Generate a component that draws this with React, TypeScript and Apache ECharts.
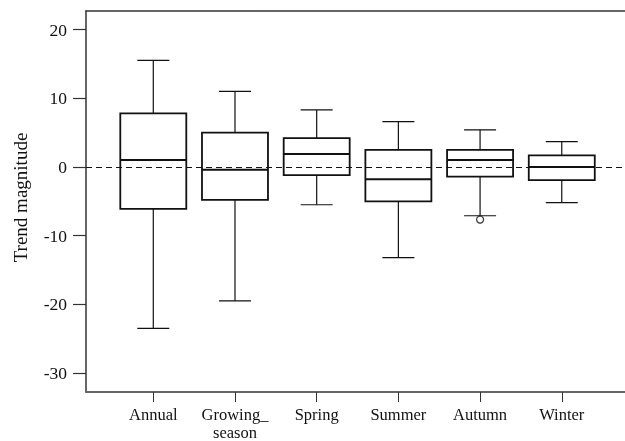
import React, { useEffect, useRef } from "react";
import * as echarts from "echarts";

const categories = ["Annual", "Growing_\nseason", "Spring", "Summer", "Autumn", "Winter"];
const lowWhisker = [-23.5, -19.5, -5.5, -13.2, -7.1, -5.2];
const q1 = [-6.1, -4.8, -1.2, -5.0, -1.4, -1.9];
const median = [1.0, -0.4, 1.9, -1.8, 1.0, 0.0];
const q3 = [7.8, 5.0, 4.2, 2.5, 2.5, 1.7];
const highWhisker = [15.5, 11.0, 8.3, 6.6, 5.4, 3.7];
const outliers: [number, number][] = [[5, -7.65]];
const yTicks = [-30, -20, -10, 0, 10, 20];
const xTicks = [1, 2, 3, 4, 5, 6];

const FONT = "'Liberation Serif', 'Times New Roman', serif";
const X_MIN = 0.1763;
const X_MAX = 6.774;

export default function App() {
  const ref = useRef<HTMLDivElement>(null);
  useEffect(() => {
    if (!ref.current) return;
    const chart = echarts.init(ref.current, undefined, { renderer: "svg" });
    const boxData = categories.map((_, i) => [i + 1, lowWhisker[i], q1[i], median[i], q3[i], highWhisker[i]]);
    const BOX_HALF = 33;
    const CAP_HALF = 16;
    chart.setOption({
      animation: false,
      grid: { left: 86, right: 0, top: 11, bottom: 48 },
      xAxis: [
        {
          type: "value",
          min: X_MIN,
          max: X_MAX,
          position: "bottom",
          axisLine: { show: true, onZero: false, lineStyle: { color: "#666", width: 2 } },
          axisTick: { show: true, customValues: xTicks, length: 10, inside: false, lineStyle: { color: "#333", width: 1 } },
          axisLabel: {
            show: true,
            customValues: xTicks,
            formatter: (v: number) => categories[Math.round(v) - 1] ?? "",
            fontFamily: FONT,
            fontSize: 16.5,
            lineHeight: 18,
            color: "#111",
            margin: 13,
            verticalAlign: "top",
          },
          splitLine: { show: false },
        },
        {
          type: "value",
          min: X_MIN,
          max: X_MAX,
          position: "top",
          axisLine: { show: true, onZero: false, lineStyle: { color: "#333", width: 1.5 } },
          axisTick: { show: false },
          axisLabel: { show: false },
          splitLine: { show: false },
        },
      ],
      yAxis: {
        type: "value",
        min: -32.75,
        max: 22.7,
        name: "Trend magnitude",
        nameLocation: "middle",
        nameGap: 56,
        nameTextStyle: { fontFamily: FONT, fontSize: 19, color: "#111", padding: [0, 0, 0, 8] },
        axisLine: { show: true, onZero: false, lineStyle: { color: "#333", width: 1.5 } },
        axisTick: { show: true, customValues: yTicks, length: 13, inside: false, lineStyle: { color: "#333", width: 1.2 } },
        axisLabel: {
          show: true,
          customValues: yTicks,
          fontFamily: FONT,
          fontSize: 17.5,
          color: "#111",
          margin: 19,
        },
        splitLine: { show: false },
      },
      series: [
        {
          type: "custom",
          xAxisIndex: 0,
          data: boxData,
          encode: { x: 0, y: [1, 2, 3, 4, 5] },
          renderItem: (params: any, api: any) => {
            const x = api.value(0);
            const pLow = api.coord([x, api.value(1)]);
            const pQ1 = api.coord([x, api.value(2)]);
            const pMed = api.coord([x, api.value(3)]);
            const pQ3 = api.coord([x, api.value(4)]);
            const pHigh = api.coord([x, api.value(5)]);
            const cx = pMed[0];
            const thin = { stroke: "#111", lineWidth: 1.2 };
            const thick = { stroke: "#111", lineWidth: 1.8, fill: "none" };
            return {
              type: "group",
              children: [
                { type: "line", shape: { x1: cx, y1: pQ3[1], x2: cx, y2: pHigh[1] }, style: thin },
                { type: "line", shape: { x1: cx, y1: pQ1[1], x2: cx, y2: pLow[1] }, style: thin },
                { type: "line", shape: { x1: cx - CAP_HALF, y1: pHigh[1], x2: cx + CAP_HALF, y2: pHigh[1] }, style: thin },
                { type: "line", shape: { x1: cx - CAP_HALF, y1: pLow[1], x2: cx + CAP_HALF, y2: pLow[1] }, style: thin },
                { type: "rect", shape: { x: cx - BOX_HALF, y: pQ3[1], width: BOX_HALF * 2, height: pQ1[1] - pQ3[1] }, style: thick },
                { type: "line", shape: { x1: cx - BOX_HALF, y1: pMed[1], x2: cx + BOX_HALF, y2: pMed[1] }, style: { stroke: "#111", lineWidth: 2 } },
              ],
            };
          },
          z: 3,
        },
        {
          type: "scatter",
          xAxisIndex: 0,
          data: outliers,
          symbol: "circle",
          symbolSize: 7,
          itemStyle: { color: "#fff", borderColor: "#111", borderWidth: 1.3 },
          z: 4,
          markLine: {
            silent: true,
            symbol: ["none", "none"],
            label: { show: false },
            lineStyle: { type: [6, 4], color: "#111", width: 1 },
            data: [{ yAxis: 0 }],
            z: 2,
          },
        },
      ],
    });
    return () => chart.dispose();
  }, []);
  return <div ref={ref} style={{ position: "fixed", left: 0, top: 0, width: 625, height: 441 }} />;
}
